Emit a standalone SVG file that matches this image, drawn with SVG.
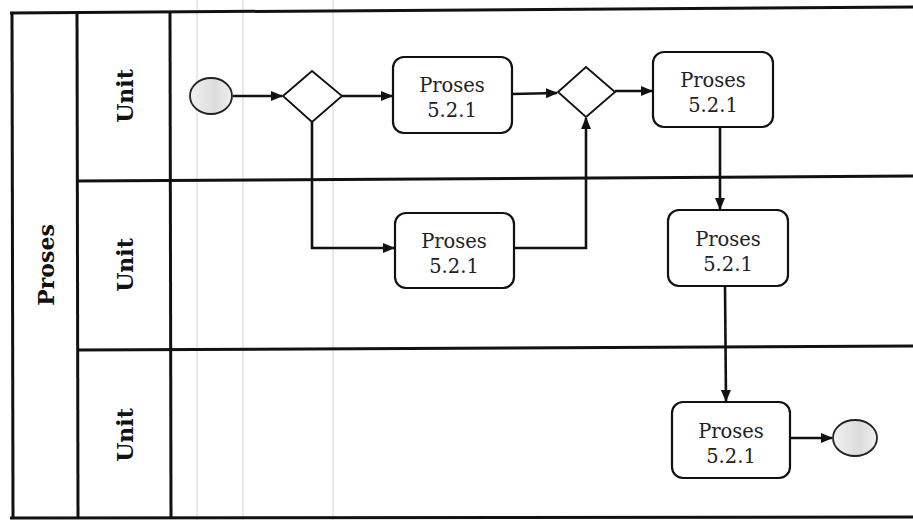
<svg xmlns="http://www.w3.org/2000/svg" width="913" height="520" viewBox="0 0 913 520">
<style>
.frame{stroke:#111;stroke-width:3;fill:none}
.grid{stroke:#e2e2e2;stroke-width:1.5}
.box{fill:#fff;stroke:#111;stroke-width:2.2}
.gw{fill:#fff;stroke:#111;stroke-width:1.8}
.ev{stroke:#222;stroke-width:1.8;fill:url(#eg)}
.conn{stroke:#111;stroke-width:2.6;fill:none}
.lbl{font-family:"DejaVu Serif",serif;font-weight:bold;font-size:22px;fill:#111;text-anchor:middle}
.t{font-family:"DejaVu Serif",serif;font-size:19.5px;fill:#222;text-anchor:middle}
</style>
<defs>
<marker id="ah" markerWidth="12" markerHeight="10" refX="11" refY="5" orient="auto" markerUnits="userSpaceOnUse">
<path d="M0,0 L12,5 L0,10 Z" fill="#111"/>
</marker>
<linearGradient id="eg" x1="0" y1="0" x2="1" y2="0">
<stop offset="0" stop-color="#f0f0f0"/><stop offset="0.6" stop-color="#dcdcdc"/><stop offset="1" stop-color="#efefef"/>
</linearGradient>
</defs>
<rect width="913" height="520" fill="#fff"/>
<g id="background-lines">
<line class="grid" x1="197" y1="0" x2="197" y2="520"/>
<line class="grid" x1="243" y1="0" x2="243" y2="520"/>
<line class="grid" x1="333" y1="0" x2="333" y2="520"/>
</g>
<g id="pool">
<line class="frame" x1="10" y1="13" x2="913" y2="7"/>
<line class="frame" x1="12" y1="12" x2="13" y2="518"/>
<line class="frame" x1="77" y1="13" x2="78" y2="518"/>
<line class="frame" x1="170" y1="13" x2="171" y2="518"/>
<line class="frame" x1="77" y1="181" x2="913" y2="176"/>
<line class="frame" x1="77" y1="350" x2="913" y2="346"/>
<line class="frame" x1="10" y1="518" x2="913" y2="517"/>
<text class="lbl" transform="translate(54,265) rotate(-90)">Proses</text>
<text class="lbl" transform="translate(133,96) rotate(-90)">Unit</text>
<text class="lbl" transform="translate(133,265) rotate(-90)">Unit</text>
<text class="lbl" transform="translate(133,435) rotate(-90)">Unit</text>
</g>
<g id="connectors">
<line class="conn" x1="233" y1="96" x2="282" y2="96" marker-end="url(#ah)"/>
<line class="conn" x1="342" y1="96" x2="392" y2="96" marker-end="url(#ah)"/>
<polyline class="conn" points="312,122 312,248 394,248" marker-end="url(#ah)"/>
<line class="conn" x1="512" y1="94" x2="557" y2="93" marker-end="url(#ah)"/>
<polyline class="conn" points="514,248 586,248 586,118" marker-end="url(#ah)"/>
<line class="conn" x1="615" y1="91" x2="652" y2="91" marker-end="url(#ah)"/>
<line class="conn" x1="720" y1="127" x2="720" y2="209" marker-end="url(#ah)"/>
<line class="conn" x1="725" y1="286" x2="726" y2="401" marker-end="url(#ah)"/>
<line class="conn" x1="790" y1="438" x2="832" y2="438" marker-end="url(#ah)"/>
</g>
<g id="start">
<ellipse class="ev" cx="211" cy="96" rx="21" ry="18"/>
</g>
<g id="gateway1">
<polygon class="gw" points="283,96 312,71 342,96 312,122"/>
</g>
<g id="task1">
<rect class="box" x="393" y="57" width="119" height="76" rx="11"/>
<text class="t" x="452" y="92">Proses</text>
<text class="t" x="452" y="117">5.2.1</text>
</g>
<g id="gateway2">
<polygon class="gw" points="558,92 586,67 615,92 586,117"/>
</g>
<g id="task2">
<rect class="box" x="653" y="52" width="120" height="75" rx="11"/>
<text class="t" x="713" y="87">Proses</text>
<text class="t" x="713" y="112">5.2.1</text>
</g>
<g id="task3">
<rect class="box" x="395" y="213" width="119" height="75" rx="11"/>
<text class="t" x="454" y="248">Proses</text>
<text class="t" x="454" y="273">5.2.1</text>
</g>
<g id="task4">
<rect class="box" x="668" y="210" width="120" height="76" rx="11"/>
<text class="t" x="728" y="246">Proses</text>
<text class="t" x="728" y="271">5.2.1</text>
</g>
<g id="task5">
<rect class="box" x="672" y="402" width="118" height="76" rx="11"/>
<text class="t" x="731" y="438">Proses</text>
<text class="t" x="731" y="463">5.2.1</text>
</g>
<g id="end">
<ellipse class="ev" cx="855" cy="438" rx="22" ry="18"/>
</g>
</svg>
